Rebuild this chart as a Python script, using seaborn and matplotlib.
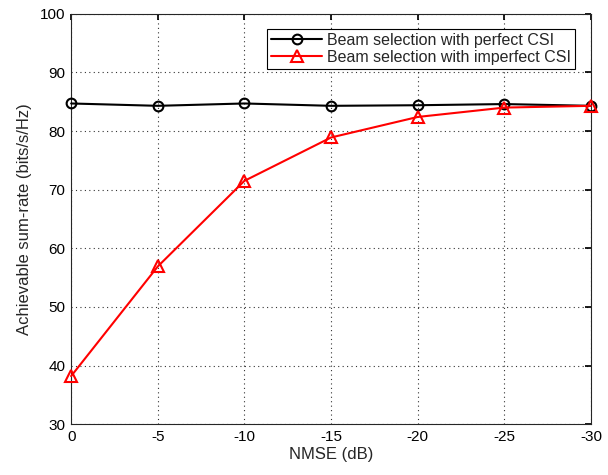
import matplotlib

matplotlib.use("Agg")

import matplotlib.pyplot as plt
import pandas as pd
import seaborn as sns

NMSE_DB = [0, -5, -10, -15, -20, -25, -30]
PERFECT_CSI = [84.7, 84.3, 84.7, 84.3, 84.4, 84.6, 84.3]
IMPERFECT_CSI = [38.2, 56.9, 71.5, 78.9, 82.4, 84.0, 84.3]
X_TICKS = [0, -5, -10, -15, -20, -25, -30]
Y_TICKS = [30, 40, 50, 60, 70, 80, 90, 100]


def main() -> None:
    sns.set_theme(style="white")
    plt.rcParams["font.family"] = ["Liberation Sans", "DejaVu Sans"]

    df = pd.DataFrame(
        {"NMSE": NMSE_DB, "perfect": PERFECT_CSI, "imperfect": IMPERFECT_CSI}
    )

    fig = plt.figure(figsize=(6.08, 4.75), dpi=100)
    ax = fig.add_axes([0.117, 0.107, 0.855, 0.864])

    sns.lineplot(
        data=df, x="NMSE", y="perfect", ax=ax, sort=False, color="black",
        marker="o", markersize=7, markerfacecolor="none", markeredgewidth=1.5,
        markeredgecolor="black", linewidth=1.5, clip_on=False, zorder=4,
        label="Beam selection with perfect CSI",
    )
    sns.lineplot(
        data=df, x="NMSE", y="imperfect", ax=ax, sort=False, color="red",
        marker="^", markersize=8, markerfacecolor="none", markeredgewidth=1.5,
        markeredgecolor="red", linewidth=1.5, clip_on=False, zorder=4,
        label="Beam selection with imperfect CSI",
    )

    ax.set_xlim(0, -30)
    ax.set_ylim(30, 100)
    ax.set_xticks(X_TICKS)
    ax.set_xticklabels([str(t) for t in X_TICKS])
    ax.set_yticks(Y_TICKS)
    ax.grid(True, linestyle=(0, (1, 3)), color="black", linewidth=0.8, alpha=0.8)
    ax.tick_params(direction="in", top=True, right=True, length=4,
                   labelsize=11, colors="black", pad=4)
    for spine in ax.spines.values():
        spine.set_color("#262626")
        spine.set_linewidth(0.8)

    ax.set_xlabel("NMSE (dB)", fontsize=12, labelpad=2)
    ax.set_ylabel("Achievable sum-rate (bits/s/Hz)", fontsize=12, labelpad=6)

    leg = ax.legend(
        loc="upper right", bbox_to_anchor=(0.969, 0.963), fontsize=11.5,
        frameon=True, fancybox=False, edgecolor="black", framealpha=1,
        handlelength=3.2, borderpad=0.25, labelspacing=0.1, handletextpad=0.3,
        borderaxespad=0,
    )
    leg.get_frame().set_linewidth(0.8)

    fig.savefig("out.png", dpi=100)
    plt.close(fig)


if __name__ == "__main__":
    main()
